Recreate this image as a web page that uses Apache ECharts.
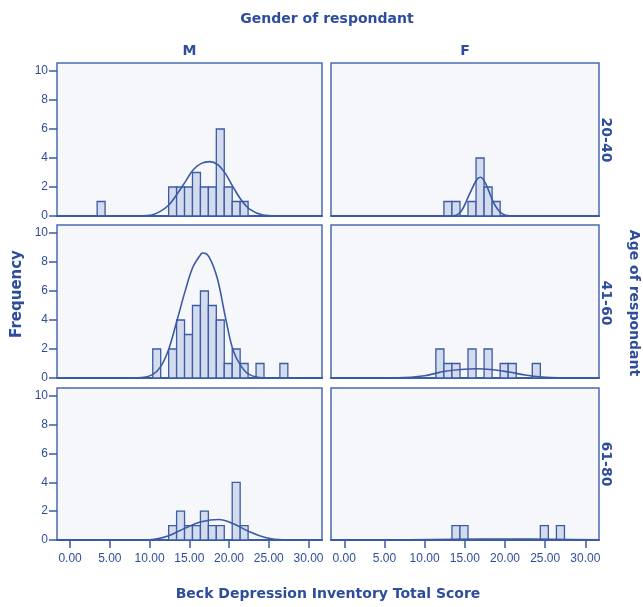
<!DOCTYPE html>
<html>
<head>
<meta charset="utf-8">
<script src="https://cdn.jsdelivr.net/npm/echarts@6/dist/echarts.min.js"></script>
<style>
html,body{margin:0;padding:0;background:#ffffff;}
#chart{width:643px;height:607px;}
</style>
</head>
<body>
<div id="chart"></div>
<script>
// ---- Data ----
const genders = ['M', 'F'];
const ageGroups = ['20-40', '41-60', '61-80'];
const xTickValues = [0, 5, 10, 15, 20, 25, 30];
const yTickValues = [0, 2, 4, 6, 8, 10];
const BIN_WIDTH = 1;

// Histogram bins: lower edge of bin and count
const mAge1Starts = [3.4, 12.4, 13.4, 14.4, 15.4, 16.4, 17.4, 18.4, 19.4, 20.4, 21.4];
const mAge1Counts = [1, 2, 2, 2, 3, 2, 2, 6, 2, 1, 1];
const mAge2Starts = [10.4, 12.4, 13.4, 14.4, 15.4, 16.4, 17.4, 18.4, 19.4, 20.4, 21.4, 23.4, 26.4];
const mAge2Counts = [2, 2, 4, 3, 5, 6, 5, 4, 1, 2, 1, 1, 1];
const mAge3Starts = [12.4, 13.4, 14.4, 15.4, 16.4, 17.4, 18.4, 20.4, 21.4];
const mAge3Counts = [1, 2, 1, 1, 2, 1, 1, 4, 1];
const fAge1Starts = [12.4, 13.4, 15.4, 16.4, 17.4, 18.4];
const fAge1Counts = [1, 1, 1, 4, 2, 1];
const fAge2Starts = [11.4, 12.4, 13.4, 15.4, 17.4, 19.4, 20.4, 23.4];
const fAge2Counts = [2, 1, 1, 2, 2, 1, 1, 1];
const fAge3Starts = [13.4, 14.4, 24.4, 26.4];
const fAge3Counts = [1, 1, 1, 1];

// Normal curves: points
const mAge1CurveX = [-1.6, 8, 10, 11.29, 12.42, 13.38, 14.51, 15.47, 16.52, 17.57, 18.53, 19.53, 20.49, 21.54, 22.58, 24.26, 26, 31.6];
const mAge1CurveY = [0, 0, 0.04, 0.3, 0.76, 1.45, 2.37, 3.17, 3.63, 3.75, 3.56, 2.94, 2.02, 1.1, 0.48, 0.07, 0.01, 0];
const mAge2CurveX = [-1.6, 6, 9, 10.37, 11.42, 12.42, 13.47, 14.51, 15.47, 16.52, 16.73, 17.48, 18.53, 19.53, 20.49, 21.54, 22.58, 24.26, 27, 31.6];
const mAge2CurveY = [0, 0, 0.03, 0.23, 0.8, 2.0, 4.0, 6.06, 7.67, 8.58, 8.62, 8.35, 6.86, 4.23, 1.95, 0.8, 0.23, 0.02, 0, 0];
const mAge3CurveX = [-1.6, 8, 10.04, 12.42, 14.51, 16.52, 18.7, 20.49, 22.58, 24.68, 26.76, 31.6];
const mAge3CurveY = [0, 0, 0.02, 0.3, 0.84, 1.26, 1.42, 1.14, 0.57, 0.16, 0.02, 0];
const fAge1CurveX = [-1.6, 12, 13.54, 14.5, 15.54, 16.46, 16.96, 17.58, 18.63, 19.58, 20.63, 31.6];
const fAge1CurveY = [0, 0, 0.02, 0.3, 1.45, 2.48, 2.67, 2.25, 0.87, 0.18, 0.01, 0];
const fAge2CurveX = [-1.6, 4, 6.67, 10.0, 12.5, 14.5, 16.46, 18.54, 20.5, 22.5, 24.58, 26.67, 31.6];
const fAge2CurveY = [0, 0, 0.01, 0.16, 0.46, 0.59, 0.64, 0.57, 0.41, 0.21, 0.07, 0.01, 0];
const fAge3CurveX = [-1.6, 8, 14, 20, 26, 31.6];
const fAge3CurveY = [0, 0.01, 0.05, 0.07, 0.05, 0.01];

// ---- Build panels ----
const panels = [
  {row: 0, col: 0, starts: mAge1Starts, counts: mAge1Counts, cx: mAge1CurveX, cy: mAge1CurveY},
  {row: 0, col: 1, starts: fAge1Starts, counts: fAge1Counts, cx: fAge1CurveX, cy: fAge1CurveY},
  {row: 1, col: 0, starts: mAge2Starts, counts: mAge2Counts, cx: mAge2CurveX, cy: mAge2CurveY},
  {row: 1, col: 1, starts: fAge2Starts, counts: fAge2Counts, cx: fAge2CurveX, cy: fAge2CurveY},
  {row: 2, col: 0, starts: mAge3Starts, counts: mAge3Counts, cx: mAge3CurveX, cy: mAge3CurveY},
  {row: 2, col: 1, starts: fAge3Starts, counts: fAge3Counts, cx: fAge3CurveX, cy: fAge3CurveY}
];

const TEXT = '#2d4d9c';
const FRAME = '#4a6bb2';
const AXIS = '#3b5ba4';
const BAR_FILL = '#d3dbec';
const BAR_STROKE = '#3a5ba6';
const CURVE = '#3a5aa3';
const FONT = 'Liberation Sans';
const TITLE_FONT = 'DejaVu Sans';

const colLeft = [57, 331];
const colWidth = [265, 268];
const rowTop = [63, 225, 388];
const rowHeight = [153, 153, 152];

const grids = [], xAxes = [], yAxes = [], series = [];
panels.forEach((p, i) => {
  grids.push({
    left: colLeft[p.col], top: rowTop[p.row], width: colWidth[p.col], height: rowHeight[p.row],
    show: true, backgroundColor: '#f6f7fb', borderColor: FRAME, borderWidth: 1.5
  });
  const bottom = p.row === 2;
  xAxes.push({
    type: 'value', gridIndex: i, min: -1.65, max: 31.7,
    splitLine: {show: false},
    axisLine: {show: true, onZero: false, lineStyle: {color: AXIS, width: 2}},
    axisTick: {show: bottom, length: 8, lineStyle: {color: AXIS, width: 1.5}, customValues: xTickValues},
    axisLabel: {show: bottom, margin: 13, color: TEXT, fontFamily: FONT, fontSize: 12,
      customValues: xTickValues, formatter: v => Number(v).toFixed(2)}
  });
  const left = p.col === 0;
  yAxes.push({
    type: 'value', gridIndex: i, min: 0, max: 10.55,
    splitLine: {show: false},
    axisLine: {show: false, onZero: false},
    axisTick: {show: left, length: 8, lineStyle: {color: AXIS, width: 1.5}, customValues: yTickValues},
    axisLabel: {show: left, margin: 9, color: TEXT, fontFamily: FONT, fontSize: 12, customValues: yTickValues}
  });
  series.push({
    type: 'custom', xAxisIndex: i, yAxisIndex: i, z: 2,
    data: p.starts.map((s, k) => [s, p.counts[k]]),
    encode: {x: 0, y: 1},
    renderItem: function (params, api) {
      const s = api.value(0), c = api.value(1);
      const a = api.coord([s, c]);
      const b = api.coord([s + BIN_WIDTH, 0]);
      return {
        type: 'rect',
        shape: {x: a[0], y: a[1], width: b[0] - a[0], height: b[1] - a[1]},
        style: {fill: BAR_FILL, stroke: BAR_STROKE, lineWidth: 1.3}
      };
    }
  });
  series.push({
    type: 'line', xAxisIndex: i, yAxisIndex: i, z: 3,
    data: p.cx.map((x, k) => [x, p.cy[k]]),
    smooth: 0.35, symbol: 'none',
    lineStyle: {color: CURVE, width: 1.6}
  });
});

const titleStyle = (size) => ({fill: TEXT, font: 'bold ' + size + 'px "' + TITLE_FONT + '"', textAlign: 'center', textVerticalAlign: 'middle'});
const graphics = [
  {type: 'text', x: 327, y: 19, style: Object.assign({text: 'Gender of respondant'}, titleStyle(14))},
  {type: 'text', x: 189.5, y: 51, style: Object.assign({text: genders[0]}, titleStyle(14))},
  {type: 'text', x: 465, y: 51, style: Object.assign({text: genders[1]}, titleStyle(14))},
  {type: 'text', x: 606, y: 140, rotation: -Math.PI / 2, style: Object.assign({text: ageGroups[0]}, titleStyle(14))},
  {type: 'text', x: 606, y: 303, rotation: -Math.PI / 2, style: Object.assign({text: ageGroups[1]}, titleStyle(14))},
  {type: 'text', x: 606, y: 464, rotation: -Math.PI / 2, style: Object.assign({text: ageGroups[2]}, titleStyle(14))},
  {type: 'text', x: 634, y: 303, rotation: -Math.PI / 2, style: Object.assign({text: 'Age of respondant'}, titleStyle(14))},
  {type: 'text', x: 17, y: 294, rotation: Math.PI / 2, style: Object.assign({text: 'Frequency'}, titleStyle(15))},
  {type: 'text', x: 328, y: 594, style: Object.assign({text: 'Beck Depression Inventory Total Score'}, titleStyle(14))}
];

const chart = echarts.init(document.getElementById('chart'), null, {renderer: 'canvas'});
chart.setOption({
  animation: false,
  backgroundColor: '#ffffff',
  grid: grids,
  xAxis: xAxes,
  yAxis: yAxes,
  series: series,
  graphic: graphics
});
</script>
</body>
</html>
